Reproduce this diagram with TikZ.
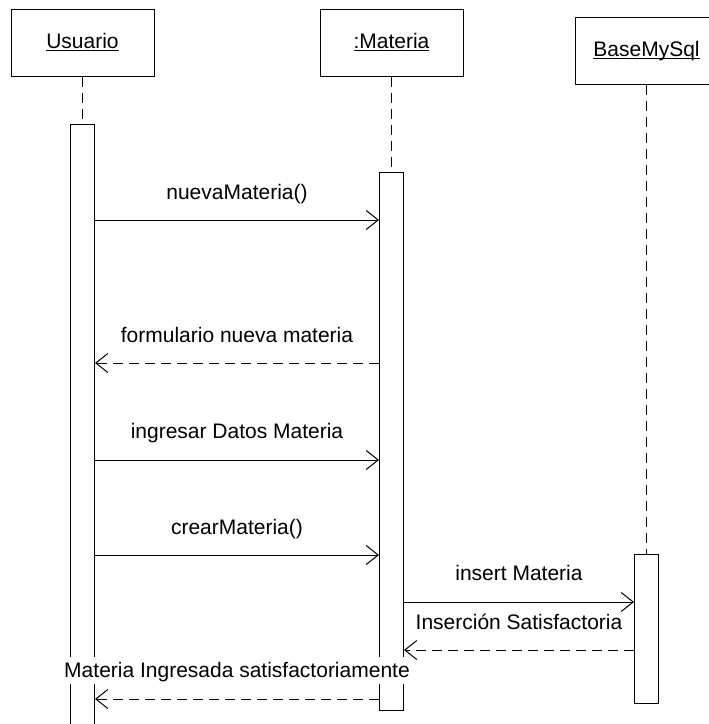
\documentclass[tikz,border=0pt]{standalone}
\usepackage{fontspec}
\setmainfont{Liberation Sans}
\usetikzlibrary{arrows.meta}
\newcommand\ulx[1]{\setbox0\hbox{#1}\rlap{\rule[-2.5pt]{\wd0}{1pt}}\box0}
\begin{document}
\begin{tikzpicture}[x=1pt,y=-1pt, line width=1pt,
  obj/.style={draw, fill=white, minimum width=143pt, minimum height=67pt, inner sep=0pt,
              font=\fontsize{21}{25}\selectfont, text height=15pt, text depth=4pt},
  act/.style={draw, fill=white, minimum width=24pt, inner sep=0pt},
  life/.style={dash pattern=on 10pt off 6pt},
  msg/.style={-{Straight Barb[length=12pt,width=19pt]}},
  ret/.style={msg, dash pattern=on 10pt off 6pt},
  lbl/.style={font=\fontsize{21}{25}\selectfont, anchor=base, inner sep=1.5pt,
              text height=19pt, text depth=5pt}]
\useasboundingbox (0,0) rectangle (709,724);
\clip (0,0) rectangle (709,724);
\fill[white] (0,0) rectangle (709,724);

% participants
\node[obj] (U) at (82.5,42.5) {\ulx{Usuario}};
\node[obj] (M) at (391.5,42.5) {\ulx{:Materia}};
\node[obj] (B) at (646.5,50.5) {\ulx{BaseMySql}};

% activation bars
\node[act, minimum height=616pt] (aU) at (82.5,432) {};
\node[act, minimum height=538pt] (aM) at (391.5,441) {};
\node[act, minimum height=149pt] (aB) at (646.5,628.5) {};

% lifelines
\draw[life] (U.south) -- (aU.north);
\draw[life] (M.south) -- (aM.north);
\draw[life] (B.south) -- (aB.north);

% messages
\draw[msg] (aU.east |- 0,220) -- (aM.west |- 0,220);
\draw[ret] (aM.west |- 0,363) -- (aU.east |- 0,363);
\draw[msg] (aU.east |- 0,460) -- (aM.west |- 0,460);
\draw[msg] (aU.east |- 0,555) -- (aM.west |- 0,555);
\draw[msg] (aM.east |- 0,602) -- (aB.west |- 0,602);
\draw[ret] (aB.west |- 0,650) -- (aM.east |- 0,650);
\draw[ret] (aM.west |- 0,699) -- (aU.east |- 0,699);

% labels
\node[lbl] (l1) at (237,199) {nuevaMateria()};
\node[lbl] (l2) at (237,342) {formulario nueva materia};
\node[lbl] (l3) at (237,438) {ingresar Datos Materia};
\node[lbl] (l4) at (237,534) {crearMateria()};
\node[lbl] (l5) at (519,580) {insert Materia};
\node[lbl] (l6) at (519,629) {Inserción Satisfactoria};
\node[lbl, fill=white] (l7) at (237,677) {Materia Ingresada satisfactoriamente};
\end{tikzpicture}
\end{document}
